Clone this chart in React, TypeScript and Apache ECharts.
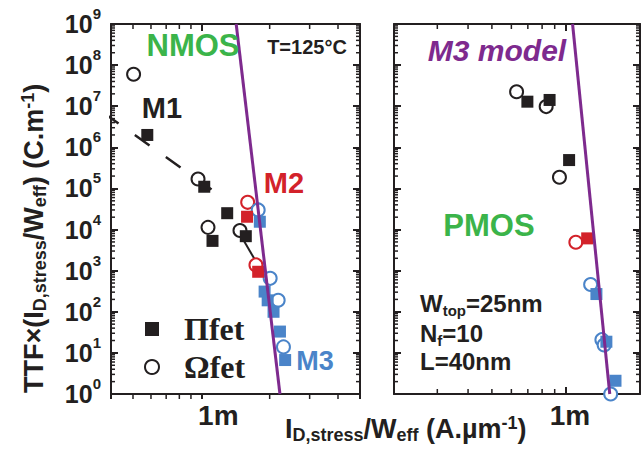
import React, { useEffect, useRef } from 'react';
import * as echarts from 'echarts';

// ---------- data (x in A/µm, y in C/m) ----------
// NMOS panel
const nmosOmegaBlack = [[0.503e-3, 6.0e7], [0.967e-3, 1.7e5], [1.07e-3, 1.13e4], [1.48e-3, 9.5e3]];
const nmosPiBlack = [[0.578e-3, 2.0e6], [1.03e-3, 1.1e5], [1.30e-3, 2.5e4], [1.12e-3, 5.3e3], [1.57e-3, 6.9e3]];
const nmosOmegaRed = [[1.60e-3, 4.6e4], [1.74e-3, 1.38e3]];
const nmosPiRed = [[1.59e-3, 2.05e4], [1.78e-3, 9.4e2]];
const nmosOmegaBlue = [[1.78e-3, 3.0e4], [2.01e-3, 6.5e2], [2.18e-3, 1.9e2], [2.30e-3, 14]];
const nmosPiBlue = [[1.81e-3, 1.55e4], [1.90e-3, 3.1e2], [1.96e-3, 1.9e2], [2.08e-3, 1.0e2], [2.22e-3, 33], [2.34e-3, 6.7]];
const nmosM1Fit = [[0.372e-3, 6.8e6], [1.15e-3, 8.2e4]];
const nmosM2Fit = [[1.43e-3, 1.07e4], [1.76e-3, 1.5e3]];
const nmosM3Model = [[1.424e-3, 1e9], [2.22e-3, 1]];

// PMOS panel
const pmosOmegaBlack = [[0.63e-3, 2.25e7], [0.831e-3, 9.8e6], [0.941e-3, 1.87e5]];
const pmosPiBlack = [[0.697e-3, 1.29e7], [0.858e-3, 1.42e7], [1.03e-3, 4.9e5]];
const pmosOmegaRed = [[1.097e-3, 4.9e3]];
const pmosPiRed = [[1.22e-3, 6.1e3]];
const pmosOmegaBlue = [[1.26e-3, 4.6e2], [1.40e-3, 21], [1.43e-3, 15.6], [1.52e-3, 1.0]];
const pmosPiBlue = [[1.33e-3, 2.7e2], [1.46e-3, 18.7], [1.59e-3, 2.1]];
const pmosM3Model = [[1.064e-3, 1e9], [1.507e-3, 1]];

// axes
const nmosXRange = [0.4e-3, 5e-3];
const pmosXRange = [0.2e-3, 2e-3];
const yRange = [1, 1e9];
const nmosXMinor = [0.5e-3, 0.6e-3, 0.7e-3, 0.8e-3, 0.9e-3, 2e-3, 3e-3, 4e-3];
const pmosXMinor = [0.3e-3, 0.4e-3, 0.5e-3, 0.6e-3, 0.7e-3, 0.8e-3, 0.9e-3];
const yDecades = [1, 10, 100, 1e3, 1e4, 1e5, 1e6, 1e7, 1e8];
const yMinorMultipliers = [2, 3, 4, 5, 6, 7, 8, 9];
const xTickLabel = '1m';

// ---------- styles ----------
const INK = '#231f20';
const GREEN = '#3bb44a';
const RED = '#d3222a';
const BLUE = '#4a84c9';
const PURPLE = '#7e2a8e';
const SANS = '"Liberation Sans", Arial, sans-serif';
const SERIF = '"Liberation Serif", "Times New Roman", serif';

const yMinorValues: number[] = [];
yDecades.forEach((d) => yMinorMultipliers.forEach((k) => yMinorValues.push(d * k)));

function scatter(name: string, data: number[][], shape: 'rect' | 'circle', color: string, xi: number, yi: number) {
  const s: any = {
    type: 'scatter', name, data, xAxisIndex: xi, yAxisIndex: yi, silent: true,
    symbol: shape, symbolSize: shape === 'rect' ? 12 : 13, z: shape === 'rect' ? 4 : 3,
  };
  s.itemStyle = shape === 'circle'
    ? { color: '#ffffff', borderColor: color, borderWidth: 2, opacity: 1 }
    : { color, opacity: 1 };
  return s;
}

function line(data: number[][], color: string, width: number, xi: number, yi: number, type: any = 'solid', z = 2) {
  return {
    type: 'line', data, xAxisIndex: xi, yAxisIndex: yi, symbol: 'none', silent: true, clip: false, z,
    lineStyle: { color, width, type },
  };
}

function yTicks(xi: number, yi: number, xmin: number) {
  return {
    type: 'custom', xAxisIndex: xi, yAxisIndex: yi, silent: true, z: 10, clip: false,
    data: yMinorValues.map((v) => [xmin, v]),
    renderItem: (params: any, api: any) => {
      const cs = params.coordSys;
      const y = api.coord([api.value(0), api.value(1)])[1];
      const st = { stroke: INK, lineWidth: 1.5 };
      return {
        type: 'group',
        children: [
          { type: 'line', shape: { x1: cs.x, y1: y, x2: cs.x + 4, y2: y }, style: st },
          { type: 'line', shape: { x1: cs.x + cs.width - 4, y1: y, x2: cs.x + cs.width, y2: y }, style: st },
        ],
      };
    },
  };
}

function xTicks(xi: number, yi: number, values: number[], bottomOutward: boolean) {
  return {
    type: 'custom', xAxisIndex: xi, yAxisIndex: yi, silent: true, z: 10, clip: false,
    data: values.map((v) => [v, 1]),
    renderItem: (params: any, api: any) => {
      const cs = params.coordSys;
      const x = api.coord([api.value(0), api.value(1)])[0];
      const st = { stroke: INK, lineWidth: 1.5 };
      const yb = cs.y + cs.height;
      return {
        type: 'group',
        children: [
          { type: 'line', shape: { x1: x, y1: yb, x2: x, y2: bottomOutward ? yb + 5 : yb - 5 }, style: st },
          { type: 'line', shape: { x1: x, y1: cs.y, x2: x, y2: cs.y + 5 }, style: st },
        ],
      };
    },
  };
}

const axisLineStyle = { show: true, onZero: false, lineStyle: { color: INK, width: 2 } };

function xAxis(gridIndex: number, range: number[], position: 'top' | 'bottom', showLabel: boolean, labelShift: number, tickOut: boolean) {
  return {
    type: 'log', logBase: 10, gridIndex, position, min: range[0], max: range[1],
    axisLine: axisLineStyle,
    axisTick: { show: true, inside: !tickOut, length: tickOut ? 5 : 7, lineStyle: { color: INK, width: 2 } },
    minorTick: { show: false }, splitLine: { show: false },
    axisLabel: showLabel
      ? {
          show: true, margin: 7, color: INK, fontFamily: SANS, fontWeight: 'bold', fontSize: 28,
          padding: [0, 0, 0, labelShift * 2],
          formatter: (v: number) => (Math.abs(Math.log10(v) + 3) < 0.01 ? xTickLabel : ''),
        }
      : { show: false },
  };
}

function yAxis(gridIndex: number, position: 'left' | 'right', showLabel: boolean) {
  return {
    type: 'log', logBase: 10, gridIndex, position, min: yRange[0], max: yRange[1],
    axisLine: axisLineStyle,
    axisTick: { show: true, inside: true, length: 7, lineStyle: { color: INK, width: 2 } },
    minorTick: { show: false }, splitLine: { show: false },
    axisLabel: showLabel
      ? {
          show: true, margin: 10,
          formatter: (v: number) => `{b|10}{s|${Math.round(Math.log10(v))}}`,
          rich: {
            b: { fontFamily: SANS, fontWeight: 'bold', fontSize: 25, lineHeight: 36, color: INK },
            s: { fontFamily: SANS, fontWeight: 'bold', fontSize: 15, lineHeight: 12, color: INK, verticalAlign: 'top' },
          },
        }
      : { show: false },
  };
}

const richMain = (size: number, lh: number) => ({ fontFamily: SANS, fontWeight: 'bold', fontSize: size, lineHeight: lh, fill: INK, color: INK });
const richSub = (size: number, lh: number, va: string) => ({ fontFamily: SANS, fontWeight: 'bold', fontSize: size, lineHeight: lh, fill: INK, color: INK, verticalAlign: va });

function label(text: string, x: number, y: number, size: number, color: string, italic = false) {
  return {
    type: 'text', x, y, silent: true, z: 20,
    style: {
      text, fill: color, fontFamily: SANS, fontWeight: 'bold', fontStyle: italic ? 'italic' : 'normal', fontSize: size,
      align: 'center', verticalAlign: 'middle', textAlign: 'center', textVerticalAlign: 'middle',
    },
  };
}

function richLabel(text: string, x: number, y: number, rich: any, rotation = 0) {
  return {
    type: 'text', x, y, rotation, silent: true, z: 20,
    style: { text, rich, align: 'left', verticalAlign: 'top', textAlign: 'left', textVerticalAlign: 'top' },
  };
}

function buildOption(): any {
  const titleRich = { m: richMain(27, 30), s: richSub(18, 10, 'bottom'), p: richSub(18, 24, 'top') };
  const noteRich = { m: richMain(24, 28), s: richSub(15, 8, 'bottom') };
  return {
    animation: false,
    backgroundColor: '#ffffff',
    grid: [
      { left: 111, top: 24, width: 249, height: 370 },
      { left: 394, top: 24, width: 248, height: 370 },
    ],
    xAxis: [
      xAxis(0, nmosXRange, 'bottom', true, 17, true),
      xAxis(0, nmosXRange, 'top', false, 0, false),
      xAxis(1, pmosXRange, 'bottom', true, 4, false),
      xAxis(1, pmosXRange, 'top', false, 0, false),
    ],
    yAxis: [
      yAxis(0, 'left', true),
      yAxis(0, 'right', false),
      yAxis(1, 'left', false),
      yAxis(1, 'right', false),
    ],
    legend: {
      data: ['Πfet', 'Ωfet'], orient: 'vertical', left: 139, top: 308,
      itemWidth: 14, itemHeight: 14, itemGap: 6, selectedMode: false,
      textStyle: { fontFamily: SERIF, fontWeight: 'bold', fontSize: 32, color: INK, padding: [0, 0, 0, 20] },
    },
    series: [
      line(nmosM1Fit, INK, 2.5, 0, 0, [18, 20]),
      line(nmosM2Fit, INK, 2, 0, 0),
      scatter('Ωfet', nmosOmegaBlack, 'circle', INK, 0, 0),
      scatter('Πfet', nmosPiBlack, 'rect', INK, 0, 0),
      scatter('M2 Ωfet', nmosOmegaRed, 'circle', RED, 0, 0),
      scatter('M2 Πfet', nmosPiRed, 'rect', RED, 0, 0),
      scatter('M3 Ωfet', nmosOmegaBlue, 'circle', BLUE, 0, 0),
      scatter('M3 Πfet', nmosPiBlue, 'rect', BLUE, 0, 0),
      line(nmosM3Model, PURPLE, 3, 0, 0, 'solid', 6),
      yTicks(0, 0, nmosXRange[0]),
      xTicks(0, 0, nmosXMinor, true),

      scatter('Ωfet', pmosOmegaBlack, 'circle', INK, 2, 2),
      scatter('Πfet', pmosPiBlack, 'rect', INK, 2, 2),
      scatter('M2 Ωfet', pmosOmegaRed, 'circle', RED, 2, 2),
      scatter('M2 Πfet', pmosPiRed, 'rect', RED, 2, 2),
      scatter('M3 Ωfet', pmosOmegaBlue, 'circle', BLUE, 2, 2),
      scatter('M3 Πfet', pmosPiBlue, 'rect', BLUE, 2, 2),
      line(pmosM3Model, PURPLE, 3, 2, 2, 'solid', 6),
      yTicks(2, 2, pmosXRange[0]),
      xTicks(2, 2, pmosXMinor, false),
    ],
    graphic: [
      label('NMOS', 193, 45, 31, GREEN),
      label('T=125°C', 307, 47, 20, INK),
      label('M1', 162, 108, 29, INK),
      label('M2', 284, 183, 29, RED),
      label('M3', 315, 361, 27, BLUE),
      label('M3 model', 497, 50, 30, PURPLE, true),
      label('PMOS', 489, 225, 31, GREEN),
      richLabel('{m|W}{s|top}{m|=25nm}', 420, 289.6, noteRich),
      richLabel('{m|N}{s|f}{m|=10}', 420, 319.6, noteRich),
      richLabel('{m|L=40nm}', 420, 347.6, noteRich),
      richLabel('{m|I}{s|D,stress}{m|/W}{s|eff}{m| (A.µm}{p|-1}{m|)}', 285, 413.6, titleRich),
      richLabel('{m|TTF×(I}{s|D,stress}{m|/W}{s|eff}{m|) (C.m}{p|-1}{m|)}', 18.6, 393, titleRich, Math.PI / 2),
    ],
  };
}

export default function App() {
  const ref = useRef<HTMLDivElement>(null);
  useEffect(() => {
    const chart = echarts.init(ref.current!, undefined, { renderer: 'svg' });
    chart.setOption(buildOption());
    return () => chart.dispose();
  }, []);
  return (
    <div
      ref={ref}
      style={{ position: 'absolute', left: 0, top: 0, width: 643, height: 457, background: '#ffffff' }}
    />
  );
}
